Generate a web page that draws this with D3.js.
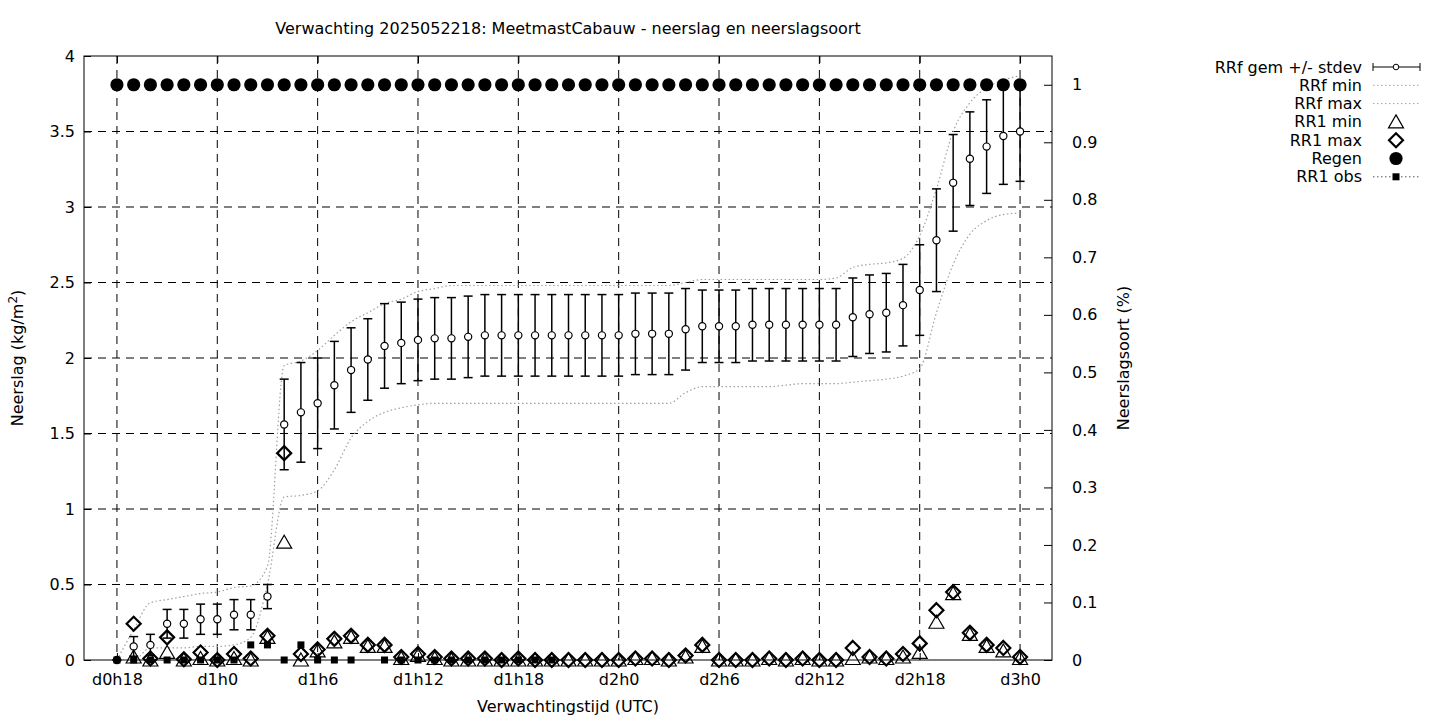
<!DOCTYPE html>
<html><head><meta charset="utf-8">
<script src="https://cdn.jsdelivr.net/npm/d3@7"></script>
<style>
body{margin:0;background:#fff;}
text{font-family:"DejaVu Sans",sans-serif;font-size:16px;fill:#000;}
</style></head>
<body><svg id="c" width="1440" height="720"></svg>
<script>
const hours = [18,19,20,21,22,23,24,25,26,27,28,29,30,31,32,33,34,35,36,37,38,39,40,41,42,43,44,45,46,47,48,49,50,51,52,53,54,55,56,57,58,59,60,61,62,63,64,65,66,67,68,69,70,71,72];
const xTickVals = [18,24,30,36,42,48,54,60,66,72];
const xTickLabels = ["d0h18","d1h0","d1h6","d1h12","d1h18","d2h0","d2h6","d2h12","d2h18","d3h0"];
const yTicks = [0,0.5,1,1.5,2,2.5,3,3.5,4];
const y2Ticks = [0,0.1,0.2,0.3,0.4,0.5,0.6,0.7,0.8,0.9,1];
const rrfMean = [0,0.09,0.10,0.24,0.24,0.27,0.27,0.30,0.30,0.42,1.56,1.64,1.70,1.82,1.92,1.99,2.08,2.10,2.12,2.13,2.13,2.14,2.15,2.15,2.15,2.15,2.15,2.15,2.15,2.15,2.15,2.16,2.16,2.16,2.19,2.21,2.21,2.21,2.22,2.22,2.22,2.22,2.22,2.22,2.27,2.29,2.30,2.35,2.45,2.78,3.16,3.32,3.40,3.47,3.50];
const rrfStd = [0,0.065,0.07,0.095,0.095,0.10,0.10,0.10,0.10,0.08,0.30,0.33,0.30,0.29,0.28,0.27,0.28,0.27,0.27,0.27,0.27,0.27,0.27,0.27,0.27,0.27,0.27,0.27,0.27,0.27,0.27,0.27,0.27,0.27,0.27,0.24,0.24,0.24,0.24,0.24,0.24,0.24,0.24,0.24,0.26,0.26,0.26,0.27,0.30,0.34,0.32,0.31,0.31,0.32,0.33];
const rrfMin = [0,0,0.08,0.08,0.08,0.09,0.09,0.10,0.15,0.50,1.08,1.09,1.12,1.26,1.47,1.58,1.64,1.67,1.69,1.70,1.70,1.70,1.70,1.70,1.70,1.70,1.70,1.70,1.70,1.70,1.70,1.70,1.70,1.70,1.77,1.81,1.81,1.81,1.81,1.81,1.82,1.83,1.83,1.83,1.84,1.85,1.86,1.88,1.93,2.30,2.62,2.82,2.91,2.95,2.96];
const rrfMax = [0,0.20,0.38,0.40,0.42,0.44,0.45,0.48,0.49,0.62,1.95,1.98,2.05,2.15,2.24,2.30,2.36,2.39,2.44,2.46,2.48,2.48,2.48,2.48,2.48,2.48,2.48,2.48,2.48,2.48,2.48,2.48,2.48,2.48,2.50,2.52,2.52,2.52,2.52,2.52,2.52,2.52,2.52,2.53,2.60,2.62,2.63,2.66,2.81,3.12,3.50,3.69,3.79,3.84,3.87];
const rr1Min = [null,0.02,0,0.05,0,0.01,0,0.01,0,0.15,0.78,0,0.06,0.12,0.15,0.09,0.09,0.01,0.03,0.01,0,0,0,0,0,0,0,0,0,0,0,0.01,0.01,0,0.02,0.09,0,0,0,0.01,0,0.01,0,0,0.01,0.02,0.01,0.02,0.05,0.25,0.44,0.17,0.09,0.06,0.01];
const rr1Max = [null,0.24,0.01,0.15,0.005,0.05,0,0.04,0.01,0.16,1.37,0.04,0.07,0.14,0.16,0.10,0.10,0.02,0.04,0.02,0.01,0.01,0.01,0,0.01,0,0,0,0,0,0,0.01,0.01,0,0.03,0.10,0,0,0,0.01,0,0.01,0,0,0.08,0.02,0.01,0.04,0.11,0.33,0.45,0.18,0.10,0.08,0.02];
const regen = [1,1,1,1,1,1,1,1,1,1,1,1,1,1,1,1,1,1,1,1,1,1,1,1,1,1,1,1,1,1,1,1,1,1,1,1,1,1,1,1,1,1,1,1,1,1,1,1,1,1,1,1,1,1,1];
const rr1Obs = [0,0,0,0,0,0,0,0,0.1,0.1,0,0.1,0,0,0,null,0,0,0,0,0,0,0,0,0,0,0,null,null,null,null,null,null,null,null,null,null,null,null,null,null,null,null,null,null,null,null,null,null,null,null,null,null,null,null];
const legendLabels = ["RRf gem +/- stdev","RRf min","RRf max","RR1 min","RR1 max","Regen","RR1 obs"];

const svg = d3.select("#c");
const L=84,R=1052,T=56,B=660;
const x = d3.scaleLinear().domain([16.03,73.91]).range([L,R]);
const y = d3.scaleLinear().domain([0,4]).range([B,T]);
const y2 = d3.scaleLinear().domain([0,1.05]).range([B,T]);
const data = hours.map((h,i)=>({h,mean:rrfMean[i],sd:rrfStd[i],mn:rrfMin[i],mx:rrfMax[i],rmin:rr1Min[i],rmax:rr1Max[i],regen:regen[i],obs:rr1Obs[i]}));

// grid
const g = svg.append("g");
g.selectAll(".gx").data(xTickVals).join("line")
 .attr("x1",d=>x(d)).attr("x2",d=>x(d)).attr("y1",T).attr("y2",B)
 .attr("stroke","#000").attr("stroke-width",1).attr("stroke-dasharray","8,6");
g.selectAll(".gy").data(yTicks.filter(d=>d>0&&d<4)).join("line")
 .attr("x1",L).attr("x2",R).attr("y1",d=>y(d)).attr("y2",d=>y(d))
 .attr("stroke","#000").attr("stroke-width",1).attr("stroke-dasharray","8,6");

// axes
const ax = svg.append("g").attr("transform",`translate(0,${B})`)
 .call(d3.axisBottom(x).tickValues(xTickVals).tickFormat((d,i)=>xTickLabels[i]).tickSizeInner(-7).tickSizeOuter(0).tickPadding(14));
const axT = svg.append("g").attr("transform",`translate(0,${T})`)
 .call(d3.axisTop(x).tickValues(xTickVals).tickFormat("").tickSizeInner(-7).tickSizeOuter(0));
const ay = svg.append("g").attr("transform",`translate(${L},0)`)
 .call(d3.axisLeft(y).tickValues(yTicks).tickFormat(d3.format("")).tickSizeInner(-7).tickSizeOuter(0).tickPadding(9));
const ay2 = svg.append("g").attr("transform",`translate(${R},0)`)
 .call(d3.axisRight(y2).tickValues(y2Ticks).tickFormat(d3.format("")).tickSizeInner(-8).tickSizeOuter(0).tickPadding(20));
[ax,axT,ay,ay2].forEach(a=>{a.select(".domain").remove();a.selectAll("line").attr("stroke","#000");a.selectAll("text").attr("font-size",null).attr("font-family",null).style("font-size","16px");});
svg.append("rect").attr("x",L).attr("y",T).attr("width",R-L).attr("height",B-T).attr("fill","none").attr("stroke","#000").attr("stroke-width",1);

// min/max lines
const line = k=>d3.line().x(d=>x(d.h)).y(d=>y(d[k])).curve(d3.curveMonotoneX);
["mn","mx"].forEach(k=>svg.append("path").datum(data).attr("d",line(k)).attr("fill","none")
 .attr("stroke","#a0a0a0").attr("stroke-width",1.2).attr("stroke-dasharray","1.5,2.5"));

// error bars
const eb = svg.append("g").selectAll("g").data(data).join("g");
eb.append("line").attr("x1",d=>x(d.h)).attr("x2",d=>x(d.h)).attr("y1",d=>y(d.mean-d.sd)).attr("y2",d=>y(d.mean+d.sd)).attr("stroke","#000").attr("stroke-width",1.5);
eb.append("line").attr("x1",d=>x(d.h)-4.5).attr("x2",d=>x(d.h)+4.5).attr("y1",d=>y(d.mean-d.sd)).attr("y2",d=>y(d.mean-d.sd)).attr("stroke","#000").attr("stroke-width",1.5);
eb.append("line").attr("x1",d=>x(d.h)-4.5).attr("x2",d=>x(d.h)+4.5).attr("y1",d=>y(d.mean+d.sd)).attr("y2",d=>y(d.mean+d.sd)).attr("stroke","#000").attr("stroke-width",1.5);
eb.append("circle").attr("cx",d=>x(d.h)).attr("cy",d=>y(d.mean)).attr("r",3.6).attr("fill","#fff").attr("stroke","#000").attr("stroke-width",1.2);

// triangles & diamonds
const tri = (cx,cy)=>`M${cx},${cy-7}L${cx+7.5},${cy+6}L${cx-7.5},${cy+6}Z`;
const dia = (cx,cy)=>`M${cx},${cy-7}L${cx+7},${cy}L${cx},${cy+7}L${cx-7},${cy}Z`;
svg.append("g").selectAll("path").data(data.filter(d=>d.rmin!=null)).join("path")
 .attr("d",d=>tri(x(d.h),y(d.rmin))).attr("fill","none").attr("stroke","#000").attr("stroke-width",1.2);
svg.append("g").selectAll("path").data(data.filter(d=>d.rmax!=null)).join("path")
 .attr("d",d=>dia(x(d.h),y(d.rmax))).attr("fill","none").attr("stroke","#000").attr("stroke-width",2.2);
// regen
svg.append("g").selectAll("circle").data(data).join("circle")
 .attr("cx",d=>x(d.h)).attr("cy",d=>y2(d.regen)).attr("r",6.6).attr("fill","#000");
// obs
svg.append("g").selectAll("rect").data(data.filter(d=>d.obs!=null)).join("rect")
 .attr("x",d=>x(d.h)-3.5).attr("y",d=>y(d.obs)-3.5).attr("width",7).attr("height",7).attr("fill","#000");

// titles
svg.append("text").attr("x",568).attr("y",34).attr("text-anchor","middle")
 .text("Verwachting 2025052218: MeetmastCabauw - neerslag en neerslagsoort");
svg.append("text").attr("x",568).attr("y",712).attr("text-anchor","middle").text("Verwachtingstijd (UTC)");
const yl = svg.append("text").attr("transform","translate(23,358) rotate(-90)").attr("text-anchor","middle");
yl.append("tspan").text("Neerslag (kg/m");
yl.append("tspan").attr("dy",-6).style("font-size","12px").text("2");
yl.append("tspan").attr("dy",6).text(")");
svg.append("text").attr("transform","translate(1129,358) rotate(-90)").attr("text-anchor","middle").text("Neerslagsoort (%)");

// legend
const lg = svg.append("g");
const ly = i=>67+i*18.3;
legendLabels.forEach((t,i)=>lg.append("text").attr("x",1362).attr("y",ly(i)+5.5).attr("text-anchor","end").text(t));
const lx0=1373,lx1=1420,lxm=1396;
lg.append("line").attr("x1",lx0).attr("x2",lx1).attr("y1",ly(0)).attr("y2",ly(0)).attr("stroke","#000");
lg.append("line").attr("x1",lx0).attr("x2",lx0).attr("y1",ly(0)-4).attr("y2",ly(0)+4).attr("stroke","#000");
lg.append("line").attr("x1",lx1).attr("x2",lx1).attr("y1",ly(0)-4).attr("y2",ly(0)+4).attr("stroke","#000");
lg.append("circle").attr("cx",lxm).attr("cy",ly(0)).attr("r",2.8).attr("fill","#fff").attr("stroke","#000");
[1,2].forEach(i=>lg.append("line").attr("x1",lx0).attr("x2",lx1).attr("y1",ly(i)).attr("y2",ly(i)).attr("stroke","#a0a0a0").attr("stroke-dasharray","1.5,2.5"));
lg.append("path").attr("d",tri(lxm,ly(3))).attr("fill","none").attr("stroke","#000").attr("stroke-width",1.2);
lg.append("path").attr("d",dia(lxm,ly(4))).attr("fill","none").attr("stroke","#000").attr("stroke-width",2.2);
lg.append("circle").attr("cx",lxm).attr("cy",ly(5)).attr("r",6.6).attr("fill","#000");
lg.append("line").attr("x1",lx0).attr("x2",lx1).attr("y1",ly(6)).attr("y2",ly(6)).attr("stroke","#555").attr("stroke-dasharray","1.5,2.5");
lg.append("rect").attr("x",lxm-3.5).attr("y",ly(6)-3.5).attr("width",7).attr("height",7).attr("fill","#000");
</script></body></html>
